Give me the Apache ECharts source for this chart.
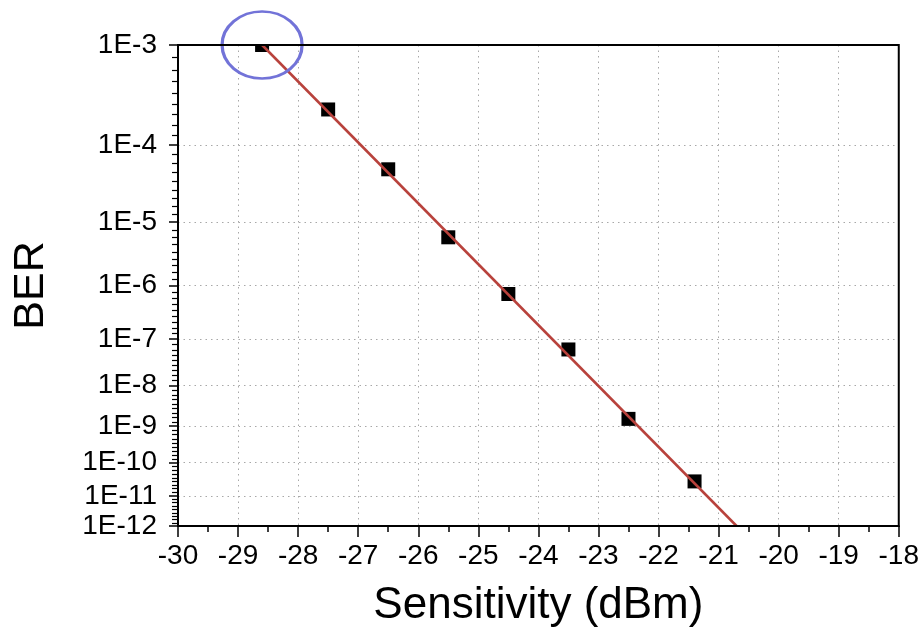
<!DOCTYPE html>
<html>
<head>
<meta charset="utf-8">
<script src="https://cdn.jsdelivr.net/npm/echarts@6/dist/echarts.min.js"></script>
<style>
html,body{margin:0;padding:0;background:#fff;}
#chart{width:922px;height:633px;}
</style>
</head>
<body>
<div id="chart"></div>
<script>
// ---- data ----
const sensitivity = [-28.6, -27.5, -26.5, -25.5, -24.5, -23.5, -22.5, -21.4];
const ber = [1e-3, 2.44e-4, 5.1e-5, 6.0e-6, 7.1e-7, 6.1e-8, 1.54e-9, 2.8e-11];
const fitSensitivity = [-28.6, -20.7];
const fitBer = [1e-3, 1e-12];
const yTickExponents = [3, 4, 5, 6, 7, 8, 9, 10, 11, 12];
const xMin = -30, xMax = -18, xStep = 1;

// BER axis scale: log10(-log10(BER)) (inverted)
function tr(b) { return Math.log10(-Math.log10(b)); }

const majorVals = yTickExponents.map(e => Math.log10(e));
const minorVals = [];
for (let i = 0; i < yTickExponents.length - 1; i++) {
  const a = yTickExponents[i], b = yTickExponents[i + 1];
  for (let k = 1; k < 9; k++) minorVals.push(Math.log10(a + (b - a) * k / 9));
}

const FONT = 'Liberation Sans, Arial, sans-serif';
const gridDash = { color: '#a8a8a8', width: 1, type: [1.5, 4] };

const scatterData = sensitivity.map((x, i) => {
  const item = { value: [x, tr(ber[i])] };
  if (i === 0) { item.symbolSize = [14, 7]; item.symbolOffset = [0, 3.5]; }
  return item;
});

const chart = echarts.init(document.getElementById('chart'));
chart.setOption({
  animation: false,
  backgroundColor: '#fff',
  grid: { left: 178, right: 22, top: 45, bottom: 103, show: true, borderColor: '#000', borderWidth: 2, backgroundColor: 'transparent', z: 10 },
  xAxis: {
    type: 'value', min: xMin, max: xMax, interval: xStep,
    name: 'Sensitivity (dBm)', nameLocation: 'middle', nameGap: 58,
    nameTextStyle: { fontSize: 44, color: '#000', fontFamily: FONT },
    axisLine: { show: true, lineStyle: { color: '#000', width: 2 } },
    axisTick: { show: true, length: 11, lineStyle: { color: '#000', width: 1.5 } },
    minorTick: { show: true, splitNumber: 2, length: 6, lineStyle: { color: '#000', width: 1.5 } },
    splitLine: { show: true, showMinLine: false, showMaxLine: false, lineStyle: gridDash },
    axisLabel: { fontSize: 28, color: '#000', fontFamily: FONT, margin: 16 }
  },
  yAxis: [{
    type: 'value', inverse: true, min: majorVals[0], max: majorVals[majorVals.length - 1],
    name: 'BER', nameLocation: 'middle', nameGap: 125,
    nameTextStyle: { fontSize: 43, color: '#000', fontFamily: FONT },
    axisLine: { show: true, lineStyle: { color: '#000', width: 2 } },
    axisTick: { show: true, length: 9, customValues: majorVals, lineStyle: { color: '#000', width: 1.5 } },
    splitLine: { show: true, showMinLine: false, showMaxLine: false, lineStyle: gridDash },
    axisLabel: {
      customValues: majorVals, fontSize: 28, color: '#000', fontFamily: FONT, margin: 21,
      formatter: v => '1E-' + Math.round(Math.pow(10, v))
    }
  }, {
    type: 'value', inverse: true, min: majorVals[0], max: majorVals[majorVals.length - 1],
    position: 'left', offset: 0,
    axisLine: { show: false },
    axisTick: { show: true, length: 6, customValues: minorVals, lineStyle: { color: '#000', width: 1.2 } },
    splitLine: { show: false },
    axisLabel: { show: false }
  }],
  series: [{
    type: 'scatter', name: 'data', yAxisIndex: 0,
    symbol: 'rect', symbolSize: 14,
    itemStyle: { color: '#000', opacity: 1 },
    data: scatterData, z: 2
  }, {
    type: 'line', name: 'fit', yAxisIndex: 0,
    showSymbol: false, symbol: 'none',
    lineStyle: { color: '#b8423c', width: 2.5 },
    data: fitSensitivity.map((x, i) => [x, tr(fitBer[i])]), z: 3
  }, {
    type: 'scatter', name: 'highlight', yAxisIndex: 0, clip: false, silent: true,
    symbol: 'circle', symbolSize: [80, 67],
    itemStyle: { color: 'rgba(0,0,0,0)', borderColor: '#7273d8', borderWidth: 3, opacity: 1 },
    data: [[sensitivity[0], tr(ber[0])]], z: 5
  }]
});
</script>
</body>
</html>
